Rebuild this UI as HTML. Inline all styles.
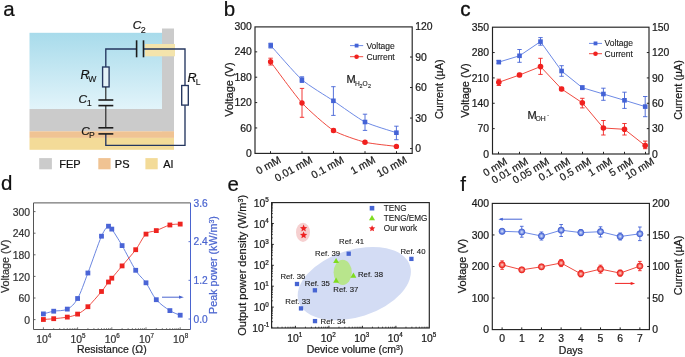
<!DOCTYPE html>
<html><head><meta charset="utf-8"><style>
html,body{margin:0;padding:0;background:#fff;}
svg{display:block;will-change:transform;}
text{font-family:"Liberation Sans",sans-serif;}
</style></head><body>
<svg width="685" height="357" viewBox="0 0 685 357">
<rect width="685" height="357" fill="#fff"/>
<text x="3.20" y="16.00" font-size="20.5" text-anchor="start" fill="#111"  stroke="#111" stroke-width="0.22">a</text>
<defs><linearGradient id="gb" x1="0" y1="0" x2="0" y2="1"><stop offset="0" stop-color="#a8dbeb"/><stop offset="1" stop-color="#e2f4fa"/></linearGradient></defs>
<rect x="29.50" y="32.80" width="132.60" height="76.20" fill="url(#gb)" />
<rect x="162.00" y="28.50" width="12.00" height="103.00" fill="#cbcbcb" />
<rect x="29.50" y="109.00" width="144.50" height="22.30" fill="#cbcbcb" />
<rect x="29.50" y="131.30" width="144.50" height="6.60" fill="#f0c393" />
<rect x="29.50" y="137.90" width="144.50" height="11.90" fill="#f3db98" />
<rect x="145.00" y="44.00" width="30.00" height="12.30" fill="#f4e4ac" />
<polyline points="105.8,67 105.8,49 136.6,49" fill="none" stroke="#24365f" stroke-width="1.35"/>
<polyline points="143.5,49 185,49 185,85.3" fill="none" stroke="#24365f" stroke-width="1.35"/>
<polyline points="185,105.2 185,145.3 105.8,145.3 105.8,134" fill="none" stroke="#24365f" stroke-width="1.35"/>
<line x1="136.60" y1="40.30" x2="136.60" y2="57.30" stroke="#1c1c1c" stroke-width="1.6" />
<line x1="143.50" y1="40.30" x2="143.50" y2="57.30" stroke="#1c1c1c" stroke-width="1.6" />
<rect x="102.6" y="67" width="6.5" height="19.9" fill="#e4f2f8" stroke="#24365f" stroke-width="1.35"/>
<rect x="181.7" y="85.5" width="6.6" height="19.6" fill="#ffffff" stroke="#24365f" stroke-width="1.35"/>
<line x1="105.80" y1="86.90" x2="105.80" y2="100.00" stroke="#1c1c1c" stroke-width="1.1" />
<line x1="98.40" y1="100.00" x2="113.30" y2="100.00" stroke="#1c1c1c" stroke-width="1.6" />
<line x1="98.40" y1="105.60" x2="113.30" y2="105.60" stroke="#1c1c1c" stroke-width="1.6" />
<line x1="105.80" y1="105.60" x2="105.80" y2="127.80" stroke="#1c1c1c" stroke-width="1.1" />
<line x1="98.40" y1="127.80" x2="113.30" y2="127.80" stroke="#1c1c1c" stroke-width="1.6" />
<line x1="98.40" y1="133.90" x2="113.30" y2="133.90" stroke="#1c1c1c" stroke-width="1.6" />
<text x="80.4" y="78.9" font-size="12.5" font-style="italic" fill="#111" stroke="#111" stroke-width="0.22">R</text>
<text x="88.3" y="81.8" font-size="8.6" fill="#111" stroke="#111" stroke-width="0.12">W</text>
<text x="78.6" y="102.8" font-size="11.8" font-style="italic" fill="#111" stroke="#111" stroke-width="0.22">C</text>
<text x="86.8" y="106" font-size="9" fill="#111" stroke="#111" stroke-width="0.12">1</text>
<text x="132.8" y="28.9" font-size="11.8" font-style="italic" fill="#111" stroke="#111" stroke-width="0.22">C</text>
<text x="140.7" y="32.8" font-size="9" fill="#111" stroke="#111" stroke-width="0.12">2</text>
<text x="81.2" y="135.2" font-size="11.8" font-style="italic" fill="#111" stroke="#111" stroke-width="0.22">C</text>
<text x="88.9" y="138" font-size="8.6" fill="#111" stroke="#111" stroke-width="0.12">P</text>
<text x="187.6" y="81.8" font-size="12.5" font-style="italic" fill="#111" stroke="#111" stroke-width="0.22">R</text>
<text x="195.8" y="85" font-size="8.6" fill="#111" stroke="#111" stroke-width="0.12">L</text>
<rect x="39.20" y="158.10" width="12.70" height="11.20" fill="#cbcbcb" />
<rect x="98.30" y="158.10" width="12.30" height="11.20" fill="#f0c393" />
<rect x="145.40" y="158.10" width="12.30" height="11.20" fill="#f3db98" />
<text x="59.20" y="167.50" font-size="11" text-anchor="start" fill="#111"  stroke="#111" stroke-width="0.22">FEP</text>
<text x="114.80" y="167.50" font-size="11" text-anchor="start" fill="#111"  stroke="#111" stroke-width="0.22">PS</text>
<text x="163.30" y="167.50" font-size="11" text-anchor="start" fill="#111"  stroke="#111" stroke-width="0.22">Al</text>
<text x="223.80" y="16.00" font-size="20.5" text-anchor="start" fill="#111"  stroke="#111" stroke-width="0.22">b</text>
<rect x="255" y="26.9" width="157.2" height="126.5" fill="none" stroke="#222" stroke-width="1.15"/>
<text x="251.90" y="156.90" font-size="10.4" text-anchor="end" fill="#1a1a1a"  stroke="#1a1a1a" stroke-width="0.22">0</text>
<line x1="255.00" y1="127.94" x2="257.20" y2="127.94" stroke="#222" stroke-width="1" />
<text x="251.90" y="131.54" font-size="10.4" text-anchor="end" fill="#1a1a1a"  stroke="#1a1a1a" stroke-width="0.22">60</text>
<line x1="255.00" y1="102.58" x2="257.20" y2="102.58" stroke="#222" stroke-width="1" />
<text x="251.90" y="106.18" font-size="10.4" text-anchor="end" fill="#1a1a1a"  stroke="#1a1a1a" stroke-width="0.22">120</text>
<line x1="255.00" y1="77.21" x2="257.20" y2="77.21" stroke="#222" stroke-width="1" />
<text x="251.90" y="80.81" font-size="10.4" text-anchor="end" fill="#1a1a1a"  stroke="#1a1a1a" stroke-width="0.22">180</text>
<line x1="255.00" y1="51.85" x2="257.20" y2="51.85" stroke="#222" stroke-width="1" />
<text x="251.90" y="55.45" font-size="10.4" text-anchor="end" fill="#1a1a1a"  stroke="#1a1a1a" stroke-width="0.22">240</text>
<text x="251.90" y="30.09" font-size="10.4" text-anchor="end" fill="#1a1a1a"  stroke="#1a1a1a" stroke-width="0.22">300</text>
<line x1="410.00" y1="148.60" x2="412.20" y2="148.60" stroke="#222" stroke-width="1" />
<text x="415.20" y="152.20" font-size="10.4" text-anchor="start" fill="#1a1a1a"  stroke="#1a1a1a" stroke-width="0.22">0</text>
<line x1="410.00" y1="118.07" x2="412.20" y2="118.07" stroke="#222" stroke-width="1" />
<text x="415.20" y="121.67" font-size="10.4" text-anchor="start" fill="#1a1a1a"  stroke="#1a1a1a" stroke-width="0.22">30</text>
<line x1="410.00" y1="87.55" x2="412.20" y2="87.55" stroke="#222" stroke-width="1" />
<text x="415.20" y="91.15" font-size="10.4" text-anchor="start" fill="#1a1a1a"  stroke="#1a1a1a" stroke-width="0.22">60</text>
<line x1="410.00" y1="57.02" x2="412.20" y2="57.02" stroke="#222" stroke-width="1" />
<text x="415.20" y="60.62" font-size="10.4" text-anchor="start" fill="#1a1a1a"  stroke="#1a1a1a" stroke-width="0.22">90</text>
<text x="415.20" y="30.10" font-size="10.4" text-anchor="start" fill="#1a1a1a"  stroke="#1a1a1a" stroke-width="0.22">120</text>
<line x1="270.50" y1="153.40" x2="270.50" y2="151.20" stroke="#222" stroke-width="1" />
<line x1="302.00" y1="153.40" x2="302.00" y2="151.20" stroke="#222" stroke-width="1" />
<line x1="333.50" y1="153.40" x2="333.50" y2="151.20" stroke="#222" stroke-width="1" />
<line x1="365.00" y1="153.40" x2="365.00" y2="151.20" stroke="#222" stroke-width="1" />
<line x1="396.50" y1="153.40" x2="396.50" y2="151.20" stroke="#222" stroke-width="1" />
<text x="281.70" y="161.90" font-size="10.6" text-anchor="end" fill="#1a1a1a" transform="rotate(-29 281.70 161.90)"  stroke="#1a1a1a" stroke-width="0.22">0 mM</text>
<text x="313.20" y="161.90" font-size="10.6" text-anchor="end" fill="#1a1a1a" transform="rotate(-29 313.20 161.90)"  stroke="#1a1a1a" stroke-width="0.22">0.01 mM</text>
<text x="344.70" y="161.90" font-size="10.6" text-anchor="end" fill="#1a1a1a" transform="rotate(-29 344.70 161.90)"  stroke="#1a1a1a" stroke-width="0.22">0.1 mM</text>
<text x="376.20" y="161.90" font-size="10.6" text-anchor="end" fill="#1a1a1a" transform="rotate(-29 376.20 161.90)"  stroke="#1a1a1a" stroke-width="0.22">1 mM</text>
<text x="407.70" y="161.90" font-size="10.6" text-anchor="end" fill="#1a1a1a" transform="rotate(-29 407.70 161.90)"  stroke="#1a1a1a" stroke-width="0.22">10 mM</text>
<text x="232.80" y="89.60" font-size="11" text-anchor="middle" fill="#1a1a1a" transform="rotate(-90 232.80 89.60)"  stroke="#1a1a1a" stroke-width="0.22">Voltage (V)</text>
<text x="443.20" y="89.20" font-size="10.8" text-anchor="middle" fill="#1a1a1a" transform="rotate(-90 443.20 89.20)"  stroke="#1a1a1a" stroke-width="0.22">Current (µA)</text>
<path d="M270.70,45.50 C273.82,48.92 295.63,74.17 301.90,79.70 C308.17,85.23 327.09,96.57 333.40,100.80 C339.71,105.03 358.70,118.81 365.00,122.00 C371.30,125.19 393.26,131.63 396.40,132.70" stroke="#6d8ae6" stroke-width="1" fill="none" />
<path d="M270.60,61.80 C273.74,65.92 295.71,96.13 302.00,103.00 C308.29,109.87 327.20,126.58 333.50,130.50 C339.80,134.42 358.71,140.61 365.00,142.20 C371.29,143.79 393.26,145.98 396.40,146.40" stroke="#f04a40" stroke-width="1" fill="none" />
<line x1="270.70" y1="43.20" x2="270.70" y2="48.00" stroke="#4463d6" stroke-width="0.9" />
<line x1="268.50" y1="43.20" x2="272.90" y2="43.20" stroke="#4463d6" stroke-width="0.9" />
<line x1="268.50" y1="48.00" x2="272.90" y2="48.00" stroke="#4463d6" stroke-width="0.9" />
<line x1="301.90" y1="76.80" x2="301.90" y2="82.50" stroke="#4463d6" stroke-width="0.9" />
<line x1="299.70" y1="76.80" x2="304.10" y2="76.80" stroke="#4463d6" stroke-width="0.9" />
<line x1="299.70" y1="82.50" x2="304.10" y2="82.50" stroke="#4463d6" stroke-width="0.9" />
<line x1="333.40" y1="86.70" x2="333.40" y2="115.40" stroke="#4463d6" stroke-width="0.9" />
<line x1="331.20" y1="86.70" x2="335.60" y2="86.70" stroke="#4463d6" stroke-width="0.9" />
<line x1="331.20" y1="115.40" x2="335.60" y2="115.40" stroke="#4463d6" stroke-width="0.9" />
<line x1="365.00" y1="114.20" x2="365.00" y2="130.40" stroke="#4463d6" stroke-width="0.9" />
<line x1="362.80" y1="114.20" x2="367.20" y2="114.20" stroke="#4463d6" stroke-width="0.9" />
<line x1="362.80" y1="130.40" x2="367.20" y2="130.40" stroke="#4463d6" stroke-width="0.9" />
<line x1="396.40" y1="126.20" x2="396.40" y2="139.70" stroke="#4463d6" stroke-width="0.9" />
<line x1="394.20" y1="126.20" x2="398.60" y2="126.20" stroke="#4463d6" stroke-width="0.9" />
<line x1="394.20" y1="139.70" x2="398.60" y2="139.70" stroke="#4463d6" stroke-width="0.9" />
<line x1="270.60" y1="58.20" x2="270.60" y2="65.00" stroke="#f0211f" stroke-width="0.9" />
<line x1="268.40" y1="58.20" x2="272.80" y2="58.20" stroke="#f0211f" stroke-width="0.9" />
<line x1="268.40" y1="65.00" x2="272.80" y2="65.00" stroke="#f0211f" stroke-width="0.9" />
<line x1="302.00" y1="88.40" x2="302.00" y2="117.30" stroke="#f0211f" stroke-width="0.9" />
<line x1="299.80" y1="88.40" x2="304.20" y2="88.40" stroke="#f0211f" stroke-width="0.9" />
<line x1="299.80" y1="117.30" x2="304.20" y2="117.30" stroke="#f0211f" stroke-width="0.9" />
<line x1="333.50" y1="129.00" x2="333.50" y2="132.00" stroke="#f0211f" stroke-width="0.9" />
<line x1="331.30" y1="129.00" x2="335.70" y2="129.00" stroke="#f0211f" stroke-width="0.9" />
<line x1="331.30" y1="132.00" x2="335.70" y2="132.00" stroke="#f0211f" stroke-width="0.9" />
<line x1="365.00" y1="141.00" x2="365.00" y2="143.50" stroke="#f0211f" stroke-width="0.9" />
<line x1="362.80" y1="141.00" x2="367.20" y2="141.00" stroke="#f0211f" stroke-width="0.9" />
<line x1="362.80" y1="143.50" x2="367.20" y2="143.50" stroke="#f0211f" stroke-width="0.9" />
<line x1="396.40" y1="145.50" x2="396.40" y2="147.50" stroke="#f0211f" stroke-width="0.9" />
<line x1="394.20" y1="145.50" x2="398.60" y2="145.50" stroke="#f0211f" stroke-width="0.9" />
<line x1="394.20" y1="147.50" x2="398.60" y2="147.50" stroke="#f0211f" stroke-width="0.9" />
<rect x="268.40" y="43.20" width="4.60" height="4.60" fill="#4463d6" />
<rect x="299.60" y="77.40" width="4.60" height="4.60" fill="#4463d6" />
<rect x="331.10" y="98.50" width="4.60" height="4.60" fill="#4463d6" />
<rect x="362.70" y="119.70" width="4.60" height="4.60" fill="#4463d6" />
<rect x="394.10" y="130.40" width="4.60" height="4.60" fill="#4463d6" />
<circle cx="270.60" cy="61.80" r="2.7" fill="#f0211f" stroke="none" stroke-width="0"/>
<circle cx="302.00" cy="103.00" r="2.7" fill="#f0211f" stroke="none" stroke-width="0"/>
<circle cx="333.50" cy="130.50" r="2.7" fill="#f0211f" stroke="none" stroke-width="0"/>
<circle cx="365.00" cy="142.20" r="2.7" fill="#f0211f" stroke="none" stroke-width="0"/>
<circle cx="396.40" cy="146.40" r="2.7" fill="#f0211f" stroke="none" stroke-width="0"/>
<line x1="350.00" y1="45.60" x2="363.20" y2="45.60" stroke="#6d8ae6" stroke-width="1" />
<rect x="354.70" y="43.70" width="3.80" height="3.80" fill="#4463d6" />
<line x1="350.00" y1="56.70" x2="363.20" y2="56.70" stroke="#f04a40" stroke-width="1" />
<circle cx="356.60" cy="56.70" r="2.3" fill="#f0211f" stroke="none" stroke-width="0"/>
<text x="366.40" y="48.60" font-size="8.5" text-anchor="start" fill="#1a1a1a"  stroke="#1a1a1a" stroke-width="0.12">Voltage</text>
<text x="366.40" y="59.70" font-size="8.5" text-anchor="start" fill="#1a1a1a"  stroke="#1a1a1a" stroke-width="0.12">Current</text>
<text x="346.40" y="82.90" font-size="11" text-anchor="start" fill="#1a1a1a"  stroke="#1a1a1a" stroke-width="0.22">M</text>
<text x="354.90" y="85.70" font-size="6.6" text-anchor="start" fill="#1a1a1a"  stroke="#1a1a1a" stroke-width="0.12">H</text>
<text x="359.40" y="88.30" font-size="5.4" text-anchor="start" fill="#1a1a1a"  stroke="#1a1a1a" stroke-width="0.12">2</text>
<text x="362.40" y="85.70" font-size="6.6" text-anchor="start" fill="#1a1a1a"  stroke="#1a1a1a" stroke-width="0.12">O</text>
<text x="367.90" y="88.30" font-size="5.4" text-anchor="start" fill="#1a1a1a"  stroke="#1a1a1a" stroke-width="0.12">2</text>
<text x="460.20" y="16.20" font-size="20.5" text-anchor="start" fill="#111" stroke="#111" stroke-width="0.4">c</text>
<rect x="492.5" y="27.2" width="156.5" height="126.8" fill="none" stroke="#222" stroke-width="1.15"/>
<text x="489.00" y="157.60" font-size="10.4" text-anchor="end" fill="#1a1a1a"  stroke="#1a1a1a" stroke-width="0.22">0</text>
<line x1="492.50" y1="128.64" x2="494.70" y2="128.64" stroke="#222" stroke-width="1" />
<text x="489.00" y="132.24" font-size="10.4" text-anchor="end" fill="#1a1a1a"  stroke="#1a1a1a" stroke-width="0.22">70</text>
<line x1="492.50" y1="103.28" x2="494.70" y2="103.28" stroke="#222" stroke-width="1" />
<text x="489.00" y="106.88" font-size="10.4" text-anchor="end" fill="#1a1a1a"  stroke="#1a1a1a" stroke-width="0.22">140</text>
<line x1="492.50" y1="77.92" x2="494.70" y2="77.92" stroke="#222" stroke-width="1" />
<text x="489.00" y="81.52" font-size="10.4" text-anchor="end" fill="#1a1a1a"  stroke="#1a1a1a" stroke-width="0.22">210</text>
<line x1="492.50" y1="52.56" x2="494.70" y2="52.56" stroke="#222" stroke-width="1" />
<text x="489.00" y="56.16" font-size="10.4" text-anchor="end" fill="#1a1a1a"  stroke="#1a1a1a" stroke-width="0.22">280</text>
<text x="489.00" y="30.80" font-size="10.4" text-anchor="end" fill="#1a1a1a"  stroke="#1a1a1a" stroke-width="0.22">350</text>
<text x="652.00" y="157.60" font-size="10.4" text-anchor="start" fill="#1a1a1a"  stroke="#1a1a1a" stroke-width="0.22">0</text>
<line x1="646.80" y1="128.64" x2="649.00" y2="128.64" stroke="#222" stroke-width="1" />
<text x="652.00" y="132.24" font-size="10.4" text-anchor="start" fill="#1a1a1a"  stroke="#1a1a1a" stroke-width="0.22">30</text>
<line x1="646.80" y1="103.28" x2="649.00" y2="103.28" stroke="#222" stroke-width="1" />
<text x="652.00" y="106.88" font-size="10.4" text-anchor="start" fill="#1a1a1a"  stroke="#1a1a1a" stroke-width="0.22">60</text>
<line x1="646.80" y1="77.92" x2="649.00" y2="77.92" stroke="#222" stroke-width="1" />
<text x="652.00" y="81.52" font-size="10.4" text-anchor="start" fill="#1a1a1a"  stroke="#1a1a1a" stroke-width="0.22">90</text>
<line x1="646.80" y1="52.56" x2="649.00" y2="52.56" stroke="#222" stroke-width="1" />
<text x="652.00" y="56.16" font-size="10.4" text-anchor="start" fill="#1a1a1a"  stroke="#1a1a1a" stroke-width="0.22">120</text>
<text x="652.00" y="30.80" font-size="10.4" text-anchor="start" fill="#1a1a1a"  stroke="#1a1a1a" stroke-width="0.22">150</text>
<line x1="498.50" y1="154.00" x2="498.50" y2="151.80" stroke="#222" stroke-width="1" />
<line x1="519.50" y1="154.00" x2="519.50" y2="151.80" stroke="#222" stroke-width="1" />
<line x1="540.50" y1="154.00" x2="540.50" y2="151.80" stroke="#222" stroke-width="1" />
<line x1="561.50" y1="154.00" x2="561.50" y2="151.80" stroke="#222" stroke-width="1" />
<line x1="582.50" y1="154.00" x2="582.50" y2="151.80" stroke="#222" stroke-width="1" />
<line x1="603.50" y1="154.00" x2="603.50" y2="151.80" stroke="#222" stroke-width="1" />
<line x1="624.50" y1="154.00" x2="624.50" y2="151.80" stroke="#222" stroke-width="1" />
<line x1="645.50" y1="154.00" x2="645.50" y2="151.80" stroke="#222" stroke-width="1" />
<text x="508.00" y="163.30" font-size="10.4" text-anchor="end" fill="#1a1a1a" transform="rotate(-31 508.00 163.30)"  stroke="#1a1a1a" stroke-width="0.22">0 mM</text>
<text x="529.00" y="163.30" font-size="10.4" text-anchor="end" fill="#1a1a1a" transform="rotate(-31 529.00 163.30)"  stroke="#1a1a1a" stroke-width="0.22">0.01 mM</text>
<text x="550.00" y="163.30" font-size="10.4" text-anchor="end" fill="#1a1a1a" transform="rotate(-31 550.00 163.30)"  stroke="#1a1a1a" stroke-width="0.22">0.05 mM</text>
<text x="571.00" y="163.30" font-size="10.4" text-anchor="end" fill="#1a1a1a" transform="rotate(-31 571.00 163.30)"  stroke="#1a1a1a" stroke-width="0.22">0.1 mM</text>
<text x="592.00" y="163.30" font-size="10.4" text-anchor="end" fill="#1a1a1a" transform="rotate(-31 592.00 163.30)"  stroke="#1a1a1a" stroke-width="0.22">0.5 mM</text>
<text x="613.00" y="163.30" font-size="10.4" text-anchor="end" fill="#1a1a1a" transform="rotate(-31 613.00 163.30)"  stroke="#1a1a1a" stroke-width="0.22">1 mM</text>
<text x="634.00" y="163.30" font-size="10.4" text-anchor="end" fill="#1a1a1a" transform="rotate(-31 634.00 163.30)"  stroke="#1a1a1a" stroke-width="0.22">5 mM</text>
<text x="655.00" y="163.30" font-size="10.4" text-anchor="end" fill="#1a1a1a" transform="rotate(-31 655.00 163.30)"  stroke="#1a1a1a" stroke-width="0.22">10 mM</text>
<text x="469.40" y="90.50" font-size="11" text-anchor="middle" fill="#1a1a1a" transform="rotate(-90 469.40 90.50)"  stroke="#1a1a1a" stroke-width="0.22">Voltage (V)</text>
<text x="681.50" y="90.00" font-size="10.8" text-anchor="middle" fill="#1a1a1a" transform="rotate(-90 681.50 90.00)"  stroke="#1a1a1a" stroke-width="0.22">Current (µA)</text>
<polyline points="498.80,62.10 519.50,55.80 540.50,41.60 561.60,71.00 582.30,87.70 603.40,94.00 624.50,100.30 645.20,106.60" fill="none" stroke="#6d8ae6" stroke-width="1"/>
<polyline points="498.80,82.30 519.50,75.00 540.50,66.60 561.60,89.00 582.30,102.80 603.40,128.00 624.50,129.30 645.20,145.60" fill="none" stroke="#f04a40" stroke-width="1"/>
<line x1="498.80" y1="60.50" x2="498.80" y2="63.60" stroke="#4463d6" stroke-width="0.9" />
<line x1="496.60" y1="60.50" x2="501.00" y2="60.50" stroke="#4463d6" stroke-width="0.9" />
<line x1="496.60" y1="63.60" x2="501.00" y2="63.60" stroke="#4463d6" stroke-width="0.9" />
<line x1="519.50" y1="49.50" x2="519.50" y2="62.30" stroke="#4463d6" stroke-width="0.9" />
<line x1="517.30" y1="49.50" x2="521.70" y2="49.50" stroke="#4463d6" stroke-width="0.9" />
<line x1="517.30" y1="62.30" x2="521.70" y2="62.30" stroke="#4463d6" stroke-width="0.9" />
<line x1="540.50" y1="37.60" x2="540.50" y2="45.20" stroke="#4463d6" stroke-width="0.9" />
<line x1="538.30" y1="37.60" x2="542.70" y2="37.60" stroke="#4463d6" stroke-width="0.9" />
<line x1="538.30" y1="45.20" x2="542.70" y2="45.20" stroke="#4463d6" stroke-width="0.9" />
<line x1="561.60" y1="65.70" x2="561.60" y2="76.30" stroke="#4463d6" stroke-width="0.9" />
<line x1="559.40" y1="65.70" x2="563.80" y2="65.70" stroke="#4463d6" stroke-width="0.9" />
<line x1="559.40" y1="76.30" x2="563.80" y2="76.30" stroke="#4463d6" stroke-width="0.9" />
<line x1="582.30" y1="85.80" x2="582.30" y2="89.60" stroke="#4463d6" stroke-width="0.9" />
<line x1="580.10" y1="85.80" x2="584.50" y2="85.80" stroke="#4463d6" stroke-width="0.9" />
<line x1="580.10" y1="89.60" x2="584.50" y2="89.60" stroke="#4463d6" stroke-width="0.9" />
<line x1="603.40" y1="88.20" x2="603.40" y2="100.30" stroke="#4463d6" stroke-width="0.9" />
<line x1="601.20" y1="88.20" x2="605.60" y2="88.20" stroke="#4463d6" stroke-width="0.9" />
<line x1="601.20" y1="100.30" x2="605.60" y2="100.30" stroke="#4463d6" stroke-width="0.9" />
<line x1="624.50" y1="92.20" x2="624.50" y2="108.40" stroke="#4463d6" stroke-width="0.9" />
<line x1="622.30" y1="92.20" x2="626.70" y2="92.20" stroke="#4463d6" stroke-width="0.9" />
<line x1="622.30" y1="108.40" x2="626.70" y2="108.40" stroke="#4463d6" stroke-width="0.9" />
<line x1="645.20" y1="96.50" x2="645.20" y2="116.70" stroke="#4463d6" stroke-width="0.9" />
<line x1="643.00" y1="96.50" x2="647.40" y2="96.50" stroke="#4463d6" stroke-width="0.9" />
<line x1="643.00" y1="116.70" x2="647.40" y2="116.70" stroke="#4463d6" stroke-width="0.9" />
<line x1="498.80" y1="79.20" x2="498.80" y2="85.50" stroke="#f0211f" stroke-width="0.9" />
<line x1="496.60" y1="79.20" x2="501.00" y2="79.20" stroke="#f0211f" stroke-width="0.9" />
<line x1="496.60" y1="85.50" x2="501.00" y2="85.50" stroke="#f0211f" stroke-width="0.9" />
<line x1="519.50" y1="73.30" x2="519.50" y2="76.70" stroke="#f0211f" stroke-width="0.9" />
<line x1="517.30" y1="73.30" x2="521.70" y2="73.30" stroke="#f0211f" stroke-width="0.9" />
<line x1="517.30" y1="76.70" x2="521.70" y2="76.70" stroke="#f0211f" stroke-width="0.9" />
<line x1="540.50" y1="58.30" x2="540.50" y2="74.40" stroke="#f0211f" stroke-width="0.9" />
<line x1="538.30" y1="58.30" x2="542.70" y2="58.30" stroke="#f0211f" stroke-width="0.9" />
<line x1="538.30" y1="74.40" x2="542.70" y2="74.40" stroke="#f0211f" stroke-width="0.9" />
<line x1="561.60" y1="87.30" x2="561.60" y2="90.70" stroke="#f0211f" stroke-width="0.9" />
<line x1="559.40" y1="87.30" x2="563.80" y2="87.30" stroke="#f0211f" stroke-width="0.9" />
<line x1="559.40" y1="90.70" x2="563.80" y2="90.70" stroke="#f0211f" stroke-width="0.9" />
<line x1="582.30" y1="98.30" x2="582.30" y2="107.90" stroke="#f0211f" stroke-width="0.9" />
<line x1="580.10" y1="98.30" x2="584.50" y2="98.30" stroke="#f0211f" stroke-width="0.9" />
<line x1="580.10" y1="107.90" x2="584.50" y2="107.90" stroke="#f0211f" stroke-width="0.9" />
<line x1="603.40" y1="120.50" x2="603.40" y2="135.00" stroke="#f0211f" stroke-width="0.9" />
<line x1="601.20" y1="120.50" x2="605.60" y2="120.50" stroke="#f0211f" stroke-width="0.9" />
<line x1="601.20" y1="135.00" x2="605.60" y2="135.00" stroke="#f0211f" stroke-width="0.9" />
<line x1="624.50" y1="123.50" x2="624.50" y2="135.00" stroke="#f0211f" stroke-width="0.9" />
<line x1="622.30" y1="123.50" x2="626.70" y2="123.50" stroke="#f0211f" stroke-width="0.9" />
<line x1="622.30" y1="135.00" x2="626.70" y2="135.00" stroke="#f0211f" stroke-width="0.9" />
<line x1="645.20" y1="141.10" x2="645.20" y2="148.70" stroke="#f0211f" stroke-width="0.9" />
<line x1="643.00" y1="141.10" x2="647.40" y2="141.10" stroke="#f0211f" stroke-width="0.9" />
<line x1="643.00" y1="148.70" x2="647.40" y2="148.70" stroke="#f0211f" stroke-width="0.9" />
<rect x="496.50" y="59.80" width="4.60" height="4.60" fill="#4463d6" />
<rect x="517.20" y="53.50" width="4.60" height="4.60" fill="#4463d6" />
<rect x="538.20" y="39.30" width="4.60" height="4.60" fill="#4463d6" />
<rect x="559.30" y="68.70" width="4.60" height="4.60" fill="#4463d6" />
<rect x="580.00" y="85.40" width="4.60" height="4.60" fill="#4463d6" />
<rect x="601.10" y="91.70" width="4.60" height="4.60" fill="#4463d6" />
<rect x="622.20" y="98.00" width="4.60" height="4.60" fill="#4463d6" />
<rect x="642.90" y="104.30" width="4.60" height="4.60" fill="#4463d6" />
<circle cx="498.80" cy="82.30" r="2.8" fill="#f0211f" stroke="none" stroke-width="0"/>
<circle cx="519.50" cy="75.00" r="2.8" fill="#f0211f" stroke="none" stroke-width="0"/>
<circle cx="540.50" cy="66.60" r="2.8" fill="#f0211f" stroke="none" stroke-width="0"/>
<circle cx="561.60" cy="89.00" r="2.8" fill="#f0211f" stroke="none" stroke-width="0"/>
<circle cx="582.30" cy="102.80" r="2.8" fill="#f0211f" stroke="none" stroke-width="0"/>
<circle cx="603.40" cy="128.00" r="2.8" fill="#f0211f" stroke="none" stroke-width="0"/>
<circle cx="624.50" cy="129.30" r="2.8" fill="#f0211f" stroke="none" stroke-width="0"/>
<circle cx="645.20" cy="145.60" r="2.8" fill="#f0211f" stroke="none" stroke-width="0"/>
<line x1="589.00" y1="43.40" x2="602.00" y2="43.40" stroke="#6d8ae6" stroke-width="1" />
<rect x="593.60" y="41.50" width="3.80" height="3.80" fill="#4463d6" />
<line x1="589.00" y1="53.70" x2="602.00" y2="53.70" stroke="#f04a40" stroke-width="1" />
<circle cx="595.50" cy="53.70" r="2.3" fill="#f0211f" stroke="none" stroke-width="0"/>
<text x="604.60" y="46.40" font-size="8.5" text-anchor="start" fill="#1a1a1a"  stroke="#1a1a1a" stroke-width="0.12">Voltage</text>
<text x="604.60" y="56.70" font-size="8.5" text-anchor="start" fill="#1a1a1a"  stroke="#1a1a1a" stroke-width="0.12">Current</text>
<text x="527.50" y="118.80" font-size="11" text-anchor="start" fill="#1a1a1a"  stroke="#1a1a1a" stroke-width="0.22">M</text>
<text x="535.50" y="121.20" font-size="6.8" text-anchor="start" fill="#1a1a1a"  stroke="#1a1a1a" stroke-width="0.12">OH</text>
<text x="547.30" y="116.50" font-size="5" text-anchor="start" fill="#1a1a1a"  stroke="#1a1a1a" stroke-width="0.12">-</text>
<text x="1.10" y="190.30" font-size="20.5" text-anchor="start" fill="#111"  stroke="#111" stroke-width="0.22">d</text>
<line x1="33.50" y1="202.90" x2="190.50" y2="202.90" stroke="#555" stroke-width="1" />
<line x1="33.50" y1="202.90" x2="33.50" y2="329.50" stroke="#555" stroke-width="1" />
<line x1="33.50" y1="329.50" x2="190.50" y2="329.50" stroke="#555" stroke-width="1" />
<line x1="190.50" y1="202.90" x2="190.50" y2="329.50" stroke="#4a64cf" stroke-width="1" />
<line x1="33.50" y1="319.60" x2="35.50" y2="319.60" stroke="#555" stroke-width="0.9" />
<text x="30.00" y="323.80" font-size="10.4" text-anchor="end" fill="#333"  stroke="#333" stroke-width="0.22">0</text>
<line x1="33.50" y1="298.00" x2="35.50" y2="298.00" stroke="#555" stroke-width="0.9" />
<text x="30.00" y="302.20" font-size="10.4" text-anchor="end" fill="#333"  stroke="#333" stroke-width="0.22">60</text>
<line x1="33.50" y1="276.40" x2="35.50" y2="276.40" stroke="#555" stroke-width="0.9" />
<text x="30.00" y="280.60" font-size="10.4" text-anchor="end" fill="#333"  stroke="#333" stroke-width="0.22">120</text>
<line x1="33.50" y1="254.80" x2="35.50" y2="254.80" stroke="#555" stroke-width="0.9" />
<text x="30.00" y="259.00" font-size="10.4" text-anchor="end" fill="#333"  stroke="#333" stroke-width="0.22">180</text>
<line x1="33.50" y1="233.20" x2="35.50" y2="233.20" stroke="#555" stroke-width="0.9" />
<text x="30.00" y="237.40" font-size="10.4" text-anchor="end" fill="#333"  stroke="#333" stroke-width="0.22">240</text>
<line x1="33.50" y1="211.60" x2="35.50" y2="211.60" stroke="#555" stroke-width="0.9" />
<text x="30.00" y="215.80" font-size="10.4" text-anchor="end" fill="#333"  stroke="#333" stroke-width="0.22">300</text>
<line x1="188.50" y1="319.00" x2="190.50" y2="319.00" stroke="#4a64cf" stroke-width="0.9" />
<text x="193.50" y="322.60" font-size="10.2" text-anchor="start" fill="#4a64cf"  stroke="#4a64cf" stroke-width="0.22">0.0</text>
<line x1="188.50" y1="280.33" x2="190.50" y2="280.33" stroke="#4a64cf" stroke-width="0.9" />
<text x="193.50" y="283.93" font-size="10.2" text-anchor="start" fill="#4a64cf"  stroke="#4a64cf" stroke-width="0.22">1.2</text>
<line x1="188.50" y1="241.67" x2="190.50" y2="241.67" stroke="#4a64cf" stroke-width="0.9" />
<text x="193.50" y="245.27" font-size="10.2" text-anchor="start" fill="#4a64cf"  stroke="#4a64cf" stroke-width="0.22">2.4</text>
<text x="193.50" y="206.60" font-size="10.2" text-anchor="start" fill="#4a64cf"  stroke="#4a64cf" stroke-width="0.22">3.6</text>
<line x1="43.40" y1="329.50" x2="43.40" y2="327.30" stroke="#555" stroke-width="0.8" />
<line x1="53.70" y1="329.50" x2="53.70" y2="328.20" stroke="#555" stroke-width="0.8" />
<line x1="59.72" y1="329.50" x2="59.72" y2="328.20" stroke="#555" stroke-width="0.8" />
<line x1="63.99" y1="329.50" x2="63.99" y2="328.20" stroke="#555" stroke-width="0.8" />
<line x1="67.30" y1="329.50" x2="67.30" y2="328.20" stroke="#555" stroke-width="0.8" />
<line x1="70.01" y1="329.50" x2="70.01" y2="328.20" stroke="#555" stroke-width="0.8" />
<line x1="72.30" y1="329.50" x2="72.30" y2="328.20" stroke="#555" stroke-width="0.8" />
<line x1="74.29" y1="329.50" x2="74.29" y2="328.20" stroke="#555" stroke-width="0.8" />
<line x1="76.04" y1="329.50" x2="76.04" y2="328.20" stroke="#555" stroke-width="0.8" />
<line x1="77.60" y1="329.50" x2="77.60" y2="327.30" stroke="#555" stroke-width="0.8" />
<line x1="87.90" y1="329.50" x2="87.90" y2="328.20" stroke="#555" stroke-width="0.8" />
<line x1="93.92" y1="329.50" x2="93.92" y2="328.20" stroke="#555" stroke-width="0.8" />
<line x1="98.19" y1="329.50" x2="98.19" y2="328.20" stroke="#555" stroke-width="0.8" />
<line x1="101.50" y1="329.50" x2="101.50" y2="328.20" stroke="#555" stroke-width="0.8" />
<line x1="104.21" y1="329.50" x2="104.21" y2="328.20" stroke="#555" stroke-width="0.8" />
<line x1="106.50" y1="329.50" x2="106.50" y2="328.20" stroke="#555" stroke-width="0.8" />
<line x1="108.49" y1="329.50" x2="108.49" y2="328.20" stroke="#555" stroke-width="0.8" />
<line x1="110.24" y1="329.50" x2="110.24" y2="328.20" stroke="#555" stroke-width="0.8" />
<line x1="111.80" y1="329.50" x2="111.80" y2="327.30" stroke="#555" stroke-width="0.8" />
<line x1="122.10" y1="329.50" x2="122.10" y2="328.20" stroke="#555" stroke-width="0.8" />
<line x1="128.12" y1="329.50" x2="128.12" y2="328.20" stroke="#555" stroke-width="0.8" />
<line x1="132.39" y1="329.50" x2="132.39" y2="328.20" stroke="#555" stroke-width="0.8" />
<line x1="135.70" y1="329.50" x2="135.70" y2="328.20" stroke="#555" stroke-width="0.8" />
<line x1="138.41" y1="329.50" x2="138.41" y2="328.20" stroke="#555" stroke-width="0.8" />
<line x1="140.70" y1="329.50" x2="140.70" y2="328.20" stroke="#555" stroke-width="0.8" />
<line x1="142.69" y1="329.50" x2="142.69" y2="328.20" stroke="#555" stroke-width="0.8" />
<line x1="144.44" y1="329.50" x2="144.44" y2="328.20" stroke="#555" stroke-width="0.8" />
<line x1="146.00" y1="329.50" x2="146.00" y2="327.30" stroke="#555" stroke-width="0.8" />
<line x1="156.30" y1="329.50" x2="156.30" y2="328.20" stroke="#555" stroke-width="0.8" />
<line x1="162.32" y1="329.50" x2="162.32" y2="328.20" stroke="#555" stroke-width="0.8" />
<line x1="166.59" y1="329.50" x2="166.59" y2="328.20" stroke="#555" stroke-width="0.8" />
<line x1="169.90" y1="329.50" x2="169.90" y2="328.20" stroke="#555" stroke-width="0.8" />
<line x1="172.61" y1="329.50" x2="172.61" y2="328.20" stroke="#555" stroke-width="0.8" />
<line x1="174.90" y1="329.50" x2="174.90" y2="328.20" stroke="#555" stroke-width="0.8" />
<line x1="176.89" y1="329.50" x2="176.89" y2="328.20" stroke="#555" stroke-width="0.8" />
<line x1="178.64" y1="329.50" x2="178.64" y2="328.20" stroke="#555" stroke-width="0.8" />
<line x1="180.20" y1="329.50" x2="180.20" y2="327.30" stroke="#555" stroke-width="0.8" />
<text x="36.30" y="342.9" font-size="10.4" fill="#333" stroke="#333" stroke-width="0.22">10<tspan font-size="6.3" dy="-4.6">4</tspan></text>
<text x="70.50" y="342.9" font-size="10.4" fill="#333" stroke="#333" stroke-width="0.22">10<tspan font-size="6.3" dy="-4.6">5</tspan></text>
<text x="104.70" y="342.9" font-size="10.4" fill="#333" stroke="#333" stroke-width="0.22">10<tspan font-size="6.3" dy="-4.6">6</tspan></text>
<text x="138.90" y="342.9" font-size="10.4" fill="#333" stroke="#333" stroke-width="0.22">10<tspan font-size="6.3" dy="-4.6">7</tspan></text>
<text x="173.10" y="342.9" font-size="10.4" fill="#333" stroke="#333" stroke-width="0.22">10<tspan font-size="6.3" dy="-4.6">8</tspan></text>
<text x="111.80" y="353.20" font-size="10.5" text-anchor="middle" fill="#222"  stroke="#222" stroke-width="0.22">Resistance (Ω)</text>
<text x="8.70" y="266.40" font-size="10.8" text-anchor="middle" fill="#333" transform="rotate(-90 8.70 266.40)"  stroke="#333" stroke-width="0.22">Voltage (V)</text>
<text x="217.3" y="265" font-size="10.7" text-anchor="middle" fill="#4a64cf" transform="rotate(-90 217.3 265)" stroke="#4a64cf" stroke-width="0.22">Peak power (kW/m<tspan font-size="7" dy="-3.5">3</tspan><tspan dy="3.5">)</tspan></text>
<path d="M43.40,313.90 C45.12,313.45 49.71,312.00 53.70,311.20 C57.68,310.40 63.32,311.22 67.30,309.10 C71.29,306.98 74.17,304.52 77.60,298.50 C81.03,292.48 83.91,283.38 87.90,273.00 C91.88,262.62 98.07,244.00 101.50,236.20 C104.94,228.40 106.77,227.38 108.49,226.20 C110.20,225.02 109.53,225.87 111.80,229.10 C114.07,232.33 118.11,238.73 122.10,245.60 C126.08,252.47 131.72,264.10 135.70,270.30 C139.69,276.50 142.57,277.90 146.00,282.80 C149.43,287.70 152.31,295.07 156.30,299.70 C160.28,304.33 165.92,308.02 169.90,310.60 C173.89,313.18 178.48,314.43 180.20,315.20" stroke="#5a78dc" stroke-width="0.9" fill="none" />
<path d="M43.40,319.50 C45.12,319.37 49.71,319.10 53.70,318.70 C57.68,318.30 63.32,317.87 67.30,317.10 C71.29,316.33 74.17,315.83 77.60,314.10 C81.03,312.37 83.91,310.47 87.90,306.70 C91.88,302.93 98.07,295.62 101.50,291.50 C104.94,287.38 106.77,284.22 108.49,282.00 C110.20,279.78 109.53,280.88 111.80,278.20 C114.07,275.52 118.11,270.65 122.10,265.90 C126.08,261.15 131.72,255.00 135.70,249.70 C139.69,244.40 142.57,237.28 146.00,234.10 C149.43,230.92 152.31,232.12 156.30,230.60 C160.28,229.08 165.92,226.08 169.90,225.00 C173.89,223.92 178.48,224.25 180.20,224.10" stroke="#ee3a30" stroke-width="0.9" fill="none" />
<rect x="41.00" y="311.50" width="4.80" height="4.80" fill="#4a64d6" />
<rect x="51.30" y="308.80" width="4.80" height="4.80" fill="#4a64d6" />
<rect x="64.90" y="306.70" width="4.80" height="4.80" fill="#4a64d6" />
<rect x="75.20" y="296.10" width="4.80" height="4.80" fill="#4a64d6" />
<rect x="85.50" y="270.60" width="4.80" height="4.80" fill="#4a64d6" />
<rect x="99.10" y="233.80" width="4.80" height="4.80" fill="#4a64d6" />
<rect x="106.09" y="223.80" width="4.80" height="4.80" fill="#4a64d6" />
<rect x="109.40" y="226.70" width="4.80" height="4.80" fill="#4a64d6" />
<rect x="119.70" y="243.20" width="4.80" height="4.80" fill="#4a64d6" />
<rect x="133.30" y="267.90" width="4.80" height="4.80" fill="#4a64d6" />
<rect x="143.60" y="280.40" width="4.80" height="4.80" fill="#4a64d6" />
<rect x="153.90" y="297.30" width="4.80" height="4.80" fill="#4a64d6" />
<rect x="167.50" y="308.20" width="4.80" height="4.80" fill="#4a64d6" />
<rect x="177.80" y="312.80" width="4.80" height="4.80" fill="#4a64d6" />
<rect x="41.00" y="317.10" width="4.80" height="4.80" fill="#ee2420" />
<rect x="51.30" y="316.30" width="4.80" height="4.80" fill="#ee2420" />
<rect x="64.90" y="314.70" width="4.80" height="4.80" fill="#ee2420" />
<rect x="75.20" y="311.70" width="4.80" height="4.80" fill="#ee2420" />
<rect x="85.50" y="304.30" width="4.80" height="4.80" fill="#ee2420" />
<rect x="99.10" y="289.10" width="4.80" height="4.80" fill="#ee2420" />
<rect x="106.09" y="279.60" width="4.80" height="4.80" fill="#ee2420" />
<rect x="109.40" y="275.80" width="4.80" height="4.80" fill="#ee2420" />
<rect x="119.70" y="263.50" width="4.80" height="4.80" fill="#ee2420" />
<rect x="133.30" y="247.30" width="4.80" height="4.80" fill="#ee2420" />
<rect x="143.60" y="231.70" width="4.80" height="4.80" fill="#ee2420" />
<rect x="153.90" y="228.20" width="4.80" height="4.80" fill="#ee2420" />
<rect x="167.50" y="222.60" width="4.80" height="4.80" fill="#ee2420" />
<rect x="177.80" y="221.70" width="4.80" height="4.80" fill="#ee2420" />
<line x1="162.00" y1="297.20" x2="181.00" y2="297.20" stroke="#4a64cf" stroke-width="1" />
<path d="M183.8,297.2 L179,295.6 L179,298.8 Z" stroke="none" stroke-width="1" fill="#4a64cf" />
<text x="227.60" y="190.60" font-size="20.5" text-anchor="start" fill="#111"  stroke="#111" stroke-width="0.22">e</text>
<rect x="271.6" y="202.6" width="157.7" height="125.4" fill="none" stroke="#222" stroke-width="1.15"/>
<line x1="271.60" y1="321.71" x2="272.90" y2="321.71" stroke="#222" stroke-width="0.8" />
<line x1="271.60" y1="318.03" x2="272.90" y2="318.03" stroke="#222" stroke-width="0.8" />
<line x1="271.60" y1="315.42" x2="272.90" y2="315.42" stroke="#222" stroke-width="0.8" />
<line x1="271.60" y1="313.39" x2="272.90" y2="313.39" stroke="#222" stroke-width="0.8" />
<line x1="271.60" y1="311.74" x2="272.90" y2="311.74" stroke="#222" stroke-width="0.8" />
<line x1="271.60" y1="310.34" x2="272.90" y2="310.34" stroke="#222" stroke-width="0.8" />
<line x1="271.60" y1="309.13" x2="272.90" y2="309.13" stroke="#222" stroke-width="0.8" />
<line x1="271.60" y1="308.06" x2="272.90" y2="308.06" stroke="#222" stroke-width="0.8" />
<text x="252.20" y="332.00" font-size="10.4" fill="#1a1a1a" stroke="#1a1a1a" stroke-width="0.22">10<tspan font-size="6.3" dy="-4.6">-1</tspan></text>
<line x1="271.60" y1="307.10" x2="273.80" y2="307.10" stroke="#222" stroke-width="1" />
<line x1="271.60" y1="300.81" x2="272.90" y2="300.81" stroke="#222" stroke-width="0.8" />
<line x1="271.60" y1="297.13" x2="272.90" y2="297.13" stroke="#222" stroke-width="0.8" />
<line x1="271.60" y1="294.52" x2="272.90" y2="294.52" stroke="#222" stroke-width="0.8" />
<line x1="271.60" y1="292.49" x2="272.90" y2="292.49" stroke="#222" stroke-width="0.8" />
<line x1="271.60" y1="290.84" x2="272.90" y2="290.84" stroke="#222" stroke-width="0.8" />
<line x1="271.60" y1="289.44" x2="272.90" y2="289.44" stroke="#222" stroke-width="0.8" />
<line x1="271.60" y1="288.23" x2="272.90" y2="288.23" stroke="#222" stroke-width="0.8" />
<line x1="271.60" y1="287.16" x2="272.90" y2="287.16" stroke="#222" stroke-width="0.8" />
<text x="253.70" y="311.10" font-size="10.4" fill="#1a1a1a" stroke="#1a1a1a" stroke-width="0.22">10<tspan font-size="6.3" dy="-4.6">0</tspan></text>
<line x1="271.60" y1="286.20" x2="273.80" y2="286.20" stroke="#222" stroke-width="1" />
<line x1="271.60" y1="279.91" x2="272.90" y2="279.91" stroke="#222" stroke-width="0.8" />
<line x1="271.60" y1="276.23" x2="272.90" y2="276.23" stroke="#222" stroke-width="0.8" />
<line x1="271.60" y1="273.62" x2="272.90" y2="273.62" stroke="#222" stroke-width="0.8" />
<line x1="271.60" y1="271.59" x2="272.90" y2="271.59" stroke="#222" stroke-width="0.8" />
<line x1="271.60" y1="269.94" x2="272.90" y2="269.94" stroke="#222" stroke-width="0.8" />
<line x1="271.60" y1="268.54" x2="272.90" y2="268.54" stroke="#222" stroke-width="0.8" />
<line x1="271.60" y1="267.33" x2="272.90" y2="267.33" stroke="#222" stroke-width="0.8" />
<line x1="271.60" y1="266.26" x2="272.90" y2="266.26" stroke="#222" stroke-width="0.8" />
<text x="253.70" y="290.20" font-size="10.4" fill="#1a1a1a" stroke="#1a1a1a" stroke-width="0.22">10<tspan font-size="6.3" dy="-4.6">1</tspan></text>
<line x1="271.60" y1="265.30" x2="273.80" y2="265.30" stroke="#222" stroke-width="1" />
<line x1="271.60" y1="259.01" x2="272.90" y2="259.01" stroke="#222" stroke-width="0.8" />
<line x1="271.60" y1="255.33" x2="272.90" y2="255.33" stroke="#222" stroke-width="0.8" />
<line x1="271.60" y1="252.72" x2="272.90" y2="252.72" stroke="#222" stroke-width="0.8" />
<line x1="271.60" y1="250.69" x2="272.90" y2="250.69" stroke="#222" stroke-width="0.8" />
<line x1="271.60" y1="249.04" x2="272.90" y2="249.04" stroke="#222" stroke-width="0.8" />
<line x1="271.60" y1="247.64" x2="272.90" y2="247.64" stroke="#222" stroke-width="0.8" />
<line x1="271.60" y1="246.43" x2="272.90" y2="246.43" stroke="#222" stroke-width="0.8" />
<line x1="271.60" y1="245.36" x2="272.90" y2="245.36" stroke="#222" stroke-width="0.8" />
<text x="253.70" y="269.30" font-size="10.4" fill="#1a1a1a" stroke="#1a1a1a" stroke-width="0.22">10<tspan font-size="6.3" dy="-4.6">2</tspan></text>
<line x1="271.60" y1="244.40" x2="273.80" y2="244.40" stroke="#222" stroke-width="1" />
<line x1="271.60" y1="238.11" x2="272.90" y2="238.11" stroke="#222" stroke-width="0.8" />
<line x1="271.60" y1="234.43" x2="272.90" y2="234.43" stroke="#222" stroke-width="0.8" />
<line x1="271.60" y1="231.82" x2="272.90" y2="231.82" stroke="#222" stroke-width="0.8" />
<line x1="271.60" y1="229.79" x2="272.90" y2="229.79" stroke="#222" stroke-width="0.8" />
<line x1="271.60" y1="228.14" x2="272.90" y2="228.14" stroke="#222" stroke-width="0.8" />
<line x1="271.60" y1="226.74" x2="272.90" y2="226.74" stroke="#222" stroke-width="0.8" />
<line x1="271.60" y1="225.53" x2="272.90" y2="225.53" stroke="#222" stroke-width="0.8" />
<line x1="271.60" y1="224.46" x2="272.90" y2="224.46" stroke="#222" stroke-width="0.8" />
<text x="253.70" y="248.40" font-size="10.4" fill="#1a1a1a" stroke="#1a1a1a" stroke-width="0.22">10<tspan font-size="6.3" dy="-4.6">3</tspan></text>
<line x1="271.60" y1="223.50" x2="273.80" y2="223.50" stroke="#222" stroke-width="1" />
<line x1="271.60" y1="217.21" x2="272.90" y2="217.21" stroke="#222" stroke-width="0.8" />
<line x1="271.60" y1="213.53" x2="272.90" y2="213.53" stroke="#222" stroke-width="0.8" />
<line x1="271.60" y1="210.92" x2="272.90" y2="210.92" stroke="#222" stroke-width="0.8" />
<line x1="271.60" y1="208.89" x2="272.90" y2="208.89" stroke="#222" stroke-width="0.8" />
<line x1="271.60" y1="207.24" x2="272.90" y2="207.24" stroke="#222" stroke-width="0.8" />
<line x1="271.60" y1="205.84" x2="272.90" y2="205.84" stroke="#222" stroke-width="0.8" />
<line x1="271.60" y1="204.63" x2="272.90" y2="204.63" stroke="#222" stroke-width="0.8" />
<line x1="271.60" y1="203.56" x2="272.90" y2="203.56" stroke="#222" stroke-width="0.8" />
<text x="253.70" y="227.50" font-size="10.4" fill="#1a1a1a" stroke="#1a1a1a" stroke-width="0.22">10<tspan font-size="6.3" dy="-4.6">4</tspan></text>
<text x="253.70" y="206.60" font-size="10.4" fill="#1a1a1a" stroke="#1a1a1a" stroke-width="0.22">10<tspan font-size="6.3" dy="-4.6">5</tspan></text>
<line x1="271.98" y1="328.00" x2="271.98" y2="326.70" stroke="#222" stroke-width="0.8" />
<line x1="277.88" y1="328.00" x2="277.88" y2="326.70" stroke="#222" stroke-width="0.8" />
<line x1="282.07" y1="328.00" x2="282.07" y2="326.70" stroke="#222" stroke-width="0.8" />
<line x1="285.32" y1="328.00" x2="285.32" y2="326.70" stroke="#222" stroke-width="0.8" />
<line x1="287.97" y1="328.00" x2="287.97" y2="326.70" stroke="#222" stroke-width="0.8" />
<line x1="290.21" y1="328.00" x2="290.21" y2="326.70" stroke="#222" stroke-width="0.8" />
<line x1="292.15" y1="328.00" x2="292.15" y2="326.70" stroke="#222" stroke-width="0.8" />
<line x1="293.87" y1="328.00" x2="293.87" y2="326.70" stroke="#222" stroke-width="0.8" />
<line x1="295.40" y1="328.00" x2="295.40" y2="325.80" stroke="#222" stroke-width="1" />
<line x1="305.48" y1="328.00" x2="305.48" y2="326.70" stroke="#222" stroke-width="0.8" />
<line x1="311.38" y1="328.00" x2="311.38" y2="326.70" stroke="#222" stroke-width="0.8" />
<line x1="315.57" y1="328.00" x2="315.57" y2="326.70" stroke="#222" stroke-width="0.8" />
<line x1="318.82" y1="328.00" x2="318.82" y2="326.70" stroke="#222" stroke-width="0.8" />
<line x1="321.47" y1="328.00" x2="321.47" y2="326.70" stroke="#222" stroke-width="0.8" />
<line x1="323.71" y1="328.00" x2="323.71" y2="326.70" stroke="#222" stroke-width="0.8" />
<line x1="325.65" y1="328.00" x2="325.65" y2="326.70" stroke="#222" stroke-width="0.8" />
<line x1="327.37" y1="328.00" x2="327.37" y2="326.70" stroke="#222" stroke-width="0.8" />
<text x="287.20" y="341.7" font-size="10.4" fill="#1a1a1a" stroke="#1a1a1a" stroke-width="0.22">10<tspan font-size="6.3" dy="-4.6">1</tspan></text>
<line x1="328.90" y1="328.00" x2="328.90" y2="325.80" stroke="#222" stroke-width="1" />
<line x1="338.98" y1="328.00" x2="338.98" y2="326.70" stroke="#222" stroke-width="0.8" />
<line x1="344.88" y1="328.00" x2="344.88" y2="326.70" stroke="#222" stroke-width="0.8" />
<line x1="349.07" y1="328.00" x2="349.07" y2="326.70" stroke="#222" stroke-width="0.8" />
<line x1="352.32" y1="328.00" x2="352.32" y2="326.70" stroke="#222" stroke-width="0.8" />
<line x1="354.97" y1="328.00" x2="354.97" y2="326.70" stroke="#222" stroke-width="0.8" />
<line x1="357.21" y1="328.00" x2="357.21" y2="326.70" stroke="#222" stroke-width="0.8" />
<line x1="359.15" y1="328.00" x2="359.15" y2="326.70" stroke="#222" stroke-width="0.8" />
<line x1="360.87" y1="328.00" x2="360.87" y2="326.70" stroke="#222" stroke-width="0.8" />
<text x="320.70" y="341.7" font-size="10.4" fill="#1a1a1a" stroke="#1a1a1a" stroke-width="0.22">10<tspan font-size="6.3" dy="-4.6">2</tspan></text>
<line x1="362.40" y1="328.00" x2="362.40" y2="325.80" stroke="#222" stroke-width="1" />
<line x1="372.48" y1="328.00" x2="372.48" y2="326.70" stroke="#222" stroke-width="0.8" />
<line x1="378.38" y1="328.00" x2="378.38" y2="326.70" stroke="#222" stroke-width="0.8" />
<line x1="382.57" y1="328.00" x2="382.57" y2="326.70" stroke="#222" stroke-width="0.8" />
<line x1="385.82" y1="328.00" x2="385.82" y2="326.70" stroke="#222" stroke-width="0.8" />
<line x1="388.47" y1="328.00" x2="388.47" y2="326.70" stroke="#222" stroke-width="0.8" />
<line x1="390.71" y1="328.00" x2="390.71" y2="326.70" stroke="#222" stroke-width="0.8" />
<line x1="392.65" y1="328.00" x2="392.65" y2="326.70" stroke="#222" stroke-width="0.8" />
<line x1="394.37" y1="328.00" x2="394.37" y2="326.70" stroke="#222" stroke-width="0.8" />
<text x="354.20" y="341.7" font-size="10.4" fill="#1a1a1a" stroke="#1a1a1a" stroke-width="0.22">10<tspan font-size="6.3" dy="-4.6">3</tspan></text>
<line x1="395.90" y1="328.00" x2="395.90" y2="325.80" stroke="#222" stroke-width="1" />
<line x1="405.98" y1="328.00" x2="405.98" y2="326.70" stroke="#222" stroke-width="0.8" />
<line x1="411.88" y1="328.00" x2="411.88" y2="326.70" stroke="#222" stroke-width="0.8" />
<line x1="416.07" y1="328.00" x2="416.07" y2="326.70" stroke="#222" stroke-width="0.8" />
<line x1="419.32" y1="328.00" x2="419.32" y2="326.70" stroke="#222" stroke-width="0.8" />
<line x1="421.97" y1="328.00" x2="421.97" y2="326.70" stroke="#222" stroke-width="0.8" />
<line x1="424.21" y1="328.00" x2="424.21" y2="326.70" stroke="#222" stroke-width="0.8" />
<line x1="426.15" y1="328.00" x2="426.15" y2="326.70" stroke="#222" stroke-width="0.8" />
<line x1="427.87" y1="328.00" x2="427.87" y2="326.70" stroke="#222" stroke-width="0.8" />
<text x="387.70" y="341.7" font-size="10.4" fill="#1a1a1a" stroke="#1a1a1a" stroke-width="0.22">10<tspan font-size="6.3" dy="-4.6">4</tspan></text>
<text x="421.20" y="341.7" font-size="10.4" fill="#1a1a1a" stroke="#1a1a1a" stroke-width="0.22">10<tspan font-size="6.3" dy="-4.6">5</tspan></text>
<text x="355" y="353.3" font-size="10.5" text-anchor="middle" fill="#1a1a1a" stroke="#1a1a1a" stroke-width="0.22">Device volume (cm<tspan font-size="7" dy="-3.5">3</tspan><tspan dy="3.5">)</tspan></text>
<text x="246.3" y="265.3" font-size="11" text-anchor="middle" fill="#1a1a1a" transform="rotate(-90 246.3 265.3)" stroke="#1a1a1a" stroke-width="0.22">Output power density (W/m<tspan font-size="7" dy="-3.5">3</tspan><tspan dy="3.5">)</tspan></text>
<ellipse cx="354.3" cy="283.6" rx="58.5" ry="33.6" transform="rotate(-18 354.3 283.6)" fill="#d3dcf4"/>
<ellipse cx="342.7" cy="272.4" rx="9.1" ry="12.6" fill="#b8e58c"/>
<ellipse cx="303" cy="232.3" rx="7" ry="9.6" fill="#f6d0d0"/>
<rect x="294.85" y="281.85" width="4.30" height="4.30" fill="#4664d2" />
<rect x="312.75" y="288.15" width="4.30" height="4.30" fill="#4664d2" />
<rect x="298.85" y="306.25" width="4.30" height="4.30" fill="#4664d2" />
<rect x="312.85" y="318.95" width="4.30" height="4.30" fill="#4664d2" />
<rect x="346.55" y="251.55" width="4.30" height="4.30" fill="#4664d2" />
<rect x="409.25" y="256.75" width="4.30" height="4.30" fill="#4664d2" />
<path d="M336.10,257.92 L339.05,263.05 L333.15,263.05 Z" stroke="none" stroke-width="1" fill="#7fdc1f" />
<path d="M353.40,272.52 L356.35,277.65 L350.45,277.65 Z" stroke="none" stroke-width="1" fill="#7fdc1f" />
<path d="M336.10,277.62 L339.05,282.75 L333.15,282.75 Z" stroke="none" stroke-width="1" fill="#7fdc1f" />
<path d="M303.60,224.60 L304.61,227.02 L307.21,227.23 L305.23,228.93 L305.83,231.47 L303.60,230.11 L301.37,231.47 L301.97,228.93 L299.99,227.23 L302.59,227.02 Z" stroke="none" stroke-width="1" fill="#ee2222" />
<path d="M303.60,231.40 L304.61,233.82 L307.21,234.03 L305.23,235.73 L305.83,238.27 L303.60,236.91 L301.37,238.27 L301.97,235.73 L299.99,234.03 L302.59,233.82 Z" stroke="none" stroke-width="1" fill="#ee2222" />
<text x="280.40" y="279.20" font-size="7.75" text-anchor="start" fill="#1a1a1a"  stroke="#1a1a1a" stroke-width="0.12">Ref. 36</text>
<text x="304.80" y="286.30" font-size="7.75" text-anchor="start" fill="#1a1a1a"  stroke="#1a1a1a" stroke-width="0.12">Ref. 35</text>
<text x="285.30" y="304.30" font-size="7.75" text-anchor="start" fill="#1a1a1a"  stroke="#1a1a1a" stroke-width="0.12">Ref. 33</text>
<text x="320.60" y="323.50" font-size="7.75" text-anchor="start" fill="#1a1a1a"  stroke="#1a1a1a" stroke-width="0.12">Ref. 34</text>
<text x="339.10" y="244.40" font-size="7.75" text-anchor="start" fill="#1a1a1a"  stroke="#1a1a1a" stroke-width="0.12">Ref. 41</text>
<text x="400.50" y="254.00" font-size="7.75" text-anchor="start" fill="#1a1a1a"  stroke="#1a1a1a" stroke-width="0.12">Ref. 40</text>
<text x="315.10" y="255.50" font-size="7.75" text-anchor="start" fill="#1a1a1a"  stroke="#1a1a1a" stroke-width="0.12">Ref. 39</text>
<text x="358.00" y="276.90" font-size="7.75" text-anchor="start" fill="#1a1a1a"  stroke="#1a1a1a" stroke-width="0.12">Ref. 38</text>
<text x="333.30" y="291.90" font-size="7.75" text-anchor="start" fill="#1a1a1a"  stroke="#1a1a1a" stroke-width="0.12">Ref. 37</text>
<rect x="369.70" y="205.90" width="4.60" height="4.60" fill="#4664d2" />
<path d="M372.00,215.07 L375.00,220.29 L369.00,220.29 Z" stroke="none" stroke-width="1" fill="#7fdc1f" />
<path d="M372.10,225.20 L373.00,227.36 L375.33,227.55 L373.56,229.07 L374.10,231.35 L372.10,230.13 L370.10,231.35 L370.64,229.07 L368.87,227.55 L371.20,227.36 Z" stroke="none" stroke-width="1" fill="#ee2222" />
<text x="383.80" y="210.80" font-size="8.2" text-anchor="start" fill="#1a1a1a"  stroke="#1a1a1a" stroke-width="0.12">TENG</text>
<text x="383.80" y="221.20" font-size="8.2" text-anchor="start" fill="#1a1a1a"  stroke="#1a1a1a" stroke-width="0.12">TENG/EMG</text>
<text x="383.80" y="231.30" font-size="8.2" text-anchor="start" fill="#1a1a1a"  stroke="#1a1a1a" stroke-width="0.12">Our work</text>
<text x="460.20" y="190.60" font-size="20.5" text-anchor="start" fill="#111"  stroke="#111" stroke-width="0.22">f</text>
<rect x="492.3" y="203.4" width="157.09999999999997" height="126.20000000000002" fill="none" stroke="#222" stroke-width="1.15"/>
<text x="489.00" y="333.20" font-size="10.4" text-anchor="end" fill="#1a1a1a"  stroke="#1a1a1a" stroke-width="0.22">0</text>
<line x1="492.30" y1="298.05" x2="494.50" y2="298.05" stroke="#222" stroke-width="1" />
<text x="489.00" y="301.65" font-size="10.4" text-anchor="end" fill="#1a1a1a"  stroke="#1a1a1a" stroke-width="0.22">100</text>
<line x1="492.30" y1="266.50" x2="494.50" y2="266.50" stroke="#222" stroke-width="1" />
<text x="489.00" y="270.10" font-size="10.4" text-anchor="end" fill="#1a1a1a"  stroke="#1a1a1a" stroke-width="0.22">200</text>
<line x1="492.30" y1="234.95" x2="494.50" y2="234.95" stroke="#222" stroke-width="1" />
<text x="489.00" y="238.55" font-size="10.4" text-anchor="end" fill="#1a1a1a"  stroke="#1a1a1a" stroke-width="0.22">300</text>
<text x="489.00" y="207.00" font-size="10.4" text-anchor="end" fill="#1a1a1a"  stroke="#1a1a1a" stroke-width="0.22">400</text>
<text x="652.30" y="333.20" font-size="10.4" text-anchor="start" fill="#1a1a1a"  stroke="#1a1a1a" stroke-width="0.22">0</text>
<line x1="647.20" y1="298.05" x2="649.40" y2="298.05" stroke="#222" stroke-width="1" />
<text x="652.30" y="301.65" font-size="10.4" text-anchor="start" fill="#1a1a1a"  stroke="#1a1a1a" stroke-width="0.22">50</text>
<line x1="647.20" y1="266.50" x2="649.40" y2="266.50" stroke="#222" stroke-width="1" />
<text x="652.30" y="270.10" font-size="10.4" text-anchor="start" fill="#1a1a1a"  stroke="#1a1a1a" stroke-width="0.22">100</text>
<line x1="647.20" y1="234.95" x2="649.40" y2="234.95" stroke="#222" stroke-width="1" />
<text x="652.30" y="238.55" font-size="10.4" text-anchor="start" fill="#1a1a1a"  stroke="#1a1a1a" stroke-width="0.22">150</text>
<text x="652.30" y="207.00" font-size="10.4" text-anchor="start" fill="#1a1a1a"  stroke="#1a1a1a" stroke-width="0.22">200</text>
<line x1="502.10" y1="329.60" x2="502.10" y2="327.40" stroke="#222" stroke-width="1" />
<text x="502.10" y="341.50" font-size="10.4" text-anchor="middle" fill="#1a1a1a"  stroke="#1a1a1a" stroke-width="0.22">0</text>
<line x1="521.78" y1="329.60" x2="521.78" y2="327.40" stroke="#222" stroke-width="1" />
<text x="521.78" y="341.50" font-size="10.4" text-anchor="middle" fill="#1a1a1a"  stroke="#1a1a1a" stroke-width="0.22">1</text>
<line x1="541.46" y1="329.60" x2="541.46" y2="327.40" stroke="#222" stroke-width="1" />
<text x="541.46" y="341.50" font-size="10.4" text-anchor="middle" fill="#1a1a1a"  stroke="#1a1a1a" stroke-width="0.22">2</text>
<line x1="561.14" y1="329.60" x2="561.14" y2="327.40" stroke="#222" stroke-width="1" />
<text x="561.14" y="341.50" font-size="10.4" text-anchor="middle" fill="#1a1a1a"  stroke="#1a1a1a" stroke-width="0.22">3</text>
<line x1="580.82" y1="329.60" x2="580.82" y2="327.40" stroke="#222" stroke-width="1" />
<text x="580.82" y="341.50" font-size="10.4" text-anchor="middle" fill="#1a1a1a"  stroke="#1a1a1a" stroke-width="0.22">4</text>
<line x1="600.50" y1="329.60" x2="600.50" y2="327.40" stroke="#222" stroke-width="1" />
<text x="600.50" y="341.50" font-size="10.4" text-anchor="middle" fill="#1a1a1a"  stroke="#1a1a1a" stroke-width="0.22">5</text>
<line x1="620.18" y1="329.60" x2="620.18" y2="327.40" stroke="#222" stroke-width="1" />
<text x="620.18" y="341.50" font-size="10.4" text-anchor="middle" fill="#1a1a1a"  stroke="#1a1a1a" stroke-width="0.22">6</text>
<line x1="639.86" y1="329.60" x2="639.86" y2="327.40" stroke="#222" stroke-width="1" />
<text x="639.86" y="341.50" font-size="10.4" text-anchor="middle" fill="#1a1a1a"  stroke="#1a1a1a" stroke-width="0.22">7</text>
<text x="570.80" y="353.50" font-size="10.5" text-anchor="middle" fill="#1a1a1a"  stroke="#1a1a1a" stroke-width="0.22">Days</text>
<text x="466.30" y="266.00" font-size="11" text-anchor="middle" fill="#1a1a1a" transform="rotate(-90 466.30 266.00)"  stroke="#1a1a1a" stroke-width="0.22">Voltage (V)</text>
<text x="682.30" y="265.40" font-size="10.8" text-anchor="middle" fill="#1a1a1a" transform="rotate(-90 682.30 265.40)"  stroke="#1a1a1a" stroke-width="0.22">Current (µA)</text>
<polyline points="502.10,231.30 521.78,232.00 541.46,236.00 561.14,230.20 580.82,232.60 600.50,231.70 620.18,236.50 639.86,233.80" fill="none" stroke="#6d8ae6" stroke-width="1"/>
<polyline points="502.10,264.80 521.78,269.80 541.46,266.80 561.14,263.00 580.82,273.80 600.50,269.10 620.18,273.10 639.86,266.10" fill="none" stroke="#f04a40" stroke-width="1"/>
<line x1="502.10" y1="229.00" x2="502.10" y2="233.60" stroke="#4463d6" stroke-width="0.9" />
<line x1="500.30" y1="229.00" x2="503.90" y2="229.00" stroke="#4463d6" stroke-width="0.9" />
<line x1="500.30" y1="233.60" x2="503.90" y2="233.60" stroke="#4463d6" stroke-width="0.9" />
<line x1="521.78" y1="226.30" x2="521.78" y2="237.20" stroke="#4463d6" stroke-width="0.9" />
<line x1="519.98" y1="226.30" x2="523.58" y2="226.30" stroke="#4463d6" stroke-width="0.9" />
<line x1="519.98" y1="237.20" x2="523.58" y2="237.20" stroke="#4463d6" stroke-width="0.9" />
<line x1="541.46" y1="232.00" x2="541.46" y2="240.00" stroke="#4463d6" stroke-width="0.9" />
<line x1="539.66" y1="232.00" x2="543.26" y2="232.00" stroke="#4463d6" stroke-width="0.9" />
<line x1="539.66" y1="240.00" x2="543.26" y2="240.00" stroke="#4463d6" stroke-width="0.9" />
<line x1="561.14" y1="224.50" x2="561.14" y2="236.50" stroke="#4463d6" stroke-width="0.9" />
<line x1="559.34" y1="224.50" x2="562.94" y2="224.50" stroke="#4463d6" stroke-width="0.9" />
<line x1="559.34" y1="236.50" x2="562.94" y2="236.50" stroke="#4463d6" stroke-width="0.9" />
<line x1="580.82" y1="229.60" x2="580.82" y2="235.60" stroke="#4463d6" stroke-width="0.9" />
<line x1="579.02" y1="229.60" x2="582.62" y2="229.60" stroke="#4463d6" stroke-width="0.9" />
<line x1="579.02" y1="235.60" x2="582.62" y2="235.60" stroke="#4463d6" stroke-width="0.9" />
<line x1="600.50" y1="226.80" x2="600.50" y2="237.00" stroke="#4463d6" stroke-width="0.9" />
<line x1="598.70" y1="226.80" x2="602.30" y2="226.80" stroke="#4463d6" stroke-width="0.9" />
<line x1="598.70" y1="237.00" x2="602.30" y2="237.00" stroke="#4463d6" stroke-width="0.9" />
<line x1="620.18" y1="233.00" x2="620.18" y2="240.00" stroke="#4463d6" stroke-width="0.9" />
<line x1="618.38" y1="233.00" x2="621.98" y2="233.00" stroke="#4463d6" stroke-width="0.9" />
<line x1="618.38" y1="240.00" x2="621.98" y2="240.00" stroke="#4463d6" stroke-width="0.9" />
<line x1="639.86" y1="227.00" x2="639.86" y2="240.60" stroke="#4463d6" stroke-width="0.9" />
<line x1="638.06" y1="227.00" x2="641.66" y2="227.00" stroke="#4463d6" stroke-width="0.9" />
<line x1="638.06" y1="240.60" x2="641.66" y2="240.60" stroke="#4463d6" stroke-width="0.9" />
<line x1="502.10" y1="260.90" x2="502.10" y2="269.30" stroke="#f0211f" stroke-width="0.9" />
<line x1="500.30" y1="260.90" x2="503.90" y2="260.90" stroke="#f0211f" stroke-width="0.9" />
<line x1="500.30" y1="269.30" x2="503.90" y2="269.30" stroke="#f0211f" stroke-width="0.9" />
<line x1="521.78" y1="268.00" x2="521.78" y2="271.60" stroke="#f0211f" stroke-width="0.9" />
<line x1="519.98" y1="268.00" x2="523.58" y2="268.00" stroke="#f0211f" stroke-width="0.9" />
<line x1="519.98" y1="271.60" x2="523.58" y2="271.60" stroke="#f0211f" stroke-width="0.9" />
<line x1="541.46" y1="265.00" x2="541.46" y2="268.60" stroke="#f0211f" stroke-width="0.9" />
<line x1="539.66" y1="265.00" x2="543.26" y2="265.00" stroke="#f0211f" stroke-width="0.9" />
<line x1="539.66" y1="268.60" x2="543.26" y2="268.60" stroke="#f0211f" stroke-width="0.9" />
<line x1="561.14" y1="259.60" x2="561.14" y2="266.60" stroke="#f0211f" stroke-width="0.9" />
<line x1="559.34" y1="259.60" x2="562.94" y2="259.60" stroke="#f0211f" stroke-width="0.9" />
<line x1="559.34" y1="266.60" x2="562.94" y2="266.60" stroke="#f0211f" stroke-width="0.9" />
<line x1="580.82" y1="270.40" x2="580.82" y2="276.80" stroke="#f0211f" stroke-width="0.9" />
<line x1="579.02" y1="270.40" x2="582.62" y2="270.40" stroke="#f0211f" stroke-width="0.9" />
<line x1="579.02" y1="276.80" x2="582.62" y2="276.80" stroke="#f0211f" stroke-width="0.9" />
<line x1="600.50" y1="265.20" x2="600.50" y2="273.10" stroke="#f0211f" stroke-width="0.9" />
<line x1="598.70" y1="265.20" x2="602.30" y2="265.20" stroke="#f0211f" stroke-width="0.9" />
<line x1="598.70" y1="273.10" x2="602.30" y2="273.10" stroke="#f0211f" stroke-width="0.9" />
<line x1="620.18" y1="270.10" x2="620.18" y2="276.10" stroke="#f0211f" stroke-width="0.9" />
<line x1="618.38" y1="270.10" x2="621.98" y2="270.10" stroke="#f0211f" stroke-width="0.9" />
<line x1="618.38" y1="276.10" x2="621.98" y2="276.10" stroke="#f0211f" stroke-width="0.9" />
<line x1="639.86" y1="261.40" x2="639.86" y2="270.70" stroke="#f0211f" stroke-width="0.9" />
<line x1="638.06" y1="261.40" x2="641.66" y2="261.40" stroke="#f0211f" stroke-width="0.9" />
<line x1="638.06" y1="270.70" x2="641.66" y2="270.70" stroke="#f0211f" stroke-width="0.9" />
<defs><radialGradient id="gbl" cx="0.5" cy="0.5" r="0.5"><stop offset="0" stop-color="#e6ecfb"/><stop offset="0.45" stop-color="#8fa5ec"/><stop offset="1" stop-color="#4563d4"/></radialGradient><radialGradient id="grd" cx="0.5" cy="0.5" r="0.5"><stop offset="0" stop-color="#fde0dc"/><stop offset="0.45" stop-color="#f77a70"/><stop offset="1" stop-color="#ea1f1a"/></radialGradient></defs>
<circle cx="502.10" cy="231.30" r="3.1" fill="url(#gbl)" stroke="#3f5cd0" stroke-width="0.7"/>
<circle cx="521.78" cy="232.00" r="3.1" fill="url(#gbl)" stroke="#3f5cd0" stroke-width="0.7"/>
<circle cx="541.46" cy="236.00" r="3.1" fill="url(#gbl)" stroke="#3f5cd0" stroke-width="0.7"/>
<circle cx="561.14" cy="230.20" r="3.1" fill="url(#gbl)" stroke="#3f5cd0" stroke-width="0.7"/>
<circle cx="580.82" cy="232.60" r="3.1" fill="url(#gbl)" stroke="#3f5cd0" stroke-width="0.7"/>
<circle cx="600.50" cy="231.70" r="3.1" fill="url(#gbl)" stroke="#3f5cd0" stroke-width="0.7"/>
<circle cx="620.18" cy="236.50" r="3.1" fill="url(#gbl)" stroke="#3f5cd0" stroke-width="0.7"/>
<circle cx="639.86" cy="233.80" r="3.1" fill="url(#gbl)" stroke="#3f5cd0" stroke-width="0.7"/>
<circle cx="502.10" cy="264.80" r="3.1" fill="url(#grd)" stroke="#e81c18" stroke-width="0.7"/>
<circle cx="521.78" cy="269.80" r="3.1" fill="url(#grd)" stroke="#e81c18" stroke-width="0.7"/>
<circle cx="541.46" cy="266.80" r="3.1" fill="url(#grd)" stroke="#e81c18" stroke-width="0.7"/>
<circle cx="561.14" cy="263.00" r="3.1" fill="url(#grd)" stroke="#e81c18" stroke-width="0.7"/>
<circle cx="580.82" cy="273.80" r="3.1" fill="url(#grd)" stroke="#e81c18" stroke-width="0.7"/>
<circle cx="600.50" cy="269.10" r="3.1" fill="url(#grd)" stroke="#e81c18" stroke-width="0.7"/>
<circle cx="620.18" cy="273.10" r="3.1" fill="url(#grd)" stroke="#e81c18" stroke-width="0.7"/>
<circle cx="639.86" cy="266.10" r="3.1" fill="url(#grd)" stroke="#e81c18" stroke-width="0.7"/>
<line x1="500.00" y1="219.20" x2="522.20" y2="219.20" stroke="#4463d6" stroke-width="1" />
<path d="M498.3,219.2 L502.8,217.7 L502.8,220.7 Z" stroke="none" stroke-width="1" fill="#4463d6" />
<line x1="614.90" y1="283.40" x2="633.00" y2="283.40" stroke="#f0211f" stroke-width="1" />
<path d="M635.2,283.4 L630.7,281.9 L630.7,284.9 Z" stroke="none" stroke-width="1" fill="#f0211f" />
</svg></body></html>
